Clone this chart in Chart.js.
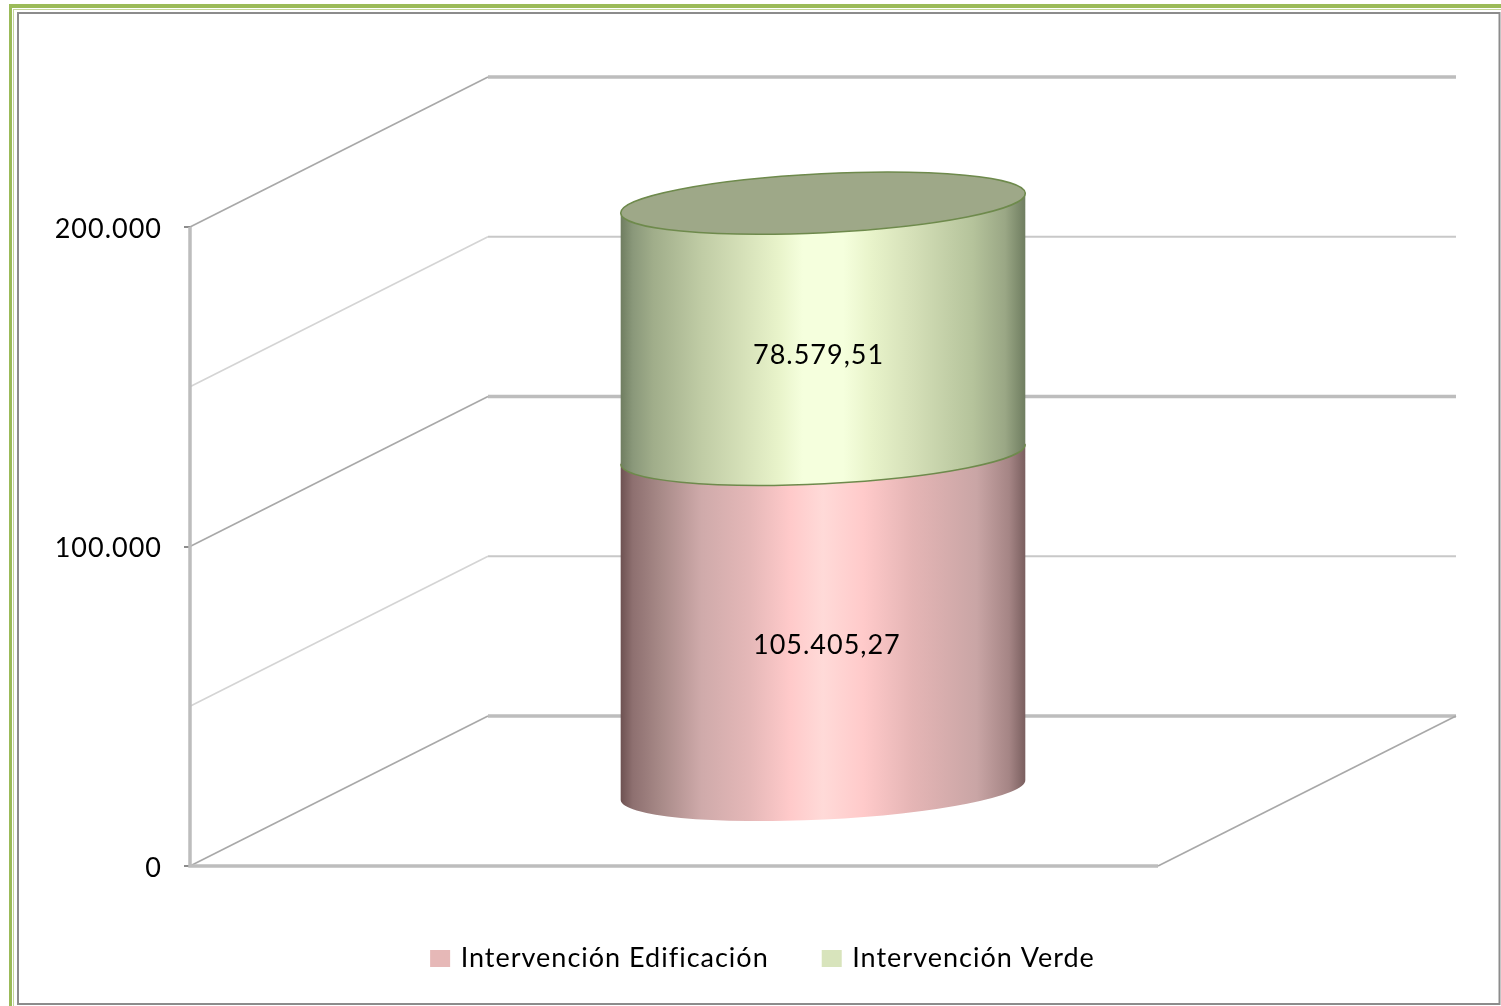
<!DOCTYPE html>
<html>
<head>
<meta charset="utf-8">
<style>
html, body { margin: 0; padding: 0; background: #fff; }
canvas { display: block; }
</style>
<script src="https://cdn.jsdelivr.net/npm/chart.js@4"></script>
</head>
<body>
<div style="width:1501px;height:1006px"><canvas id="chart" width="1501" height="1006"></canvas></div>
<script>
const categories = [''];
const seriesNames = ['Intervención Edificación', 'Intervención Verde'];
const edificacion = [105405.27];
const verde = [78579.51];
const tickValues = [0, 100000, 200000];

const font = 'Lato';
const fontSize = 27;
const depth = { x: 298, y: -150 };
const tiltDy = 10;
const ellipseB = 29.5;
const labelDrop = [23, 27];

function fmtTick(v) {
	return String(v).replace(/\B(?=(\d{3})+$)/g, '.');
}
function fmtValue(v) {
	const parts = v.toFixed(2).split('.');
	return fmtTick(parts[0]) + ',' + parts[1];
}

const greenStops = [[0, '#6f7d60'], [0.03, '#8a987a'], [0.08, '#a0ad8a'], [0.2, '#c0cca5'], [0.3, '#d5e0b8'], [0.39, '#e8f3ca'], [0.45, '#f5ffdd'], [0.55, '#f5ffdd'], [0.62, '#e8f3ca'], [0.72, '#d5e0b8'], [0.87, '#b5c39b'], [0.95, '#9aa785'], [1, '#6f7d60']];
const redStops = [[0, '#6e5252'], [0.03, '#8e7070'], [0.1, '#a88a88'], [0.2, '#cfaaaa'], [0.32, '#e5b8b8'], [0.42, '#ffcaca'], [0.5, '#ffdad8'], [0.6, '#ffcaca'], [0.72, '#e5b5b5'], [0.88, '#c9a5a5'], [0.96, '#a58585'], [1, '#7a5f5f']];

function sideGradient(ctx, x0, x1, stops) {
	const g = ctx.createLinearGradient(x0, 0, x1, 0);
	stops.forEach(s => g.addColorStop(s[0], s[1]));
	return g;
}

// back wall, floor and side lines, taken from the y scale ticks
const wallPlugin = {
	id: 'wall',
	beforeDatasetsDraw(chart) {
		const ctx = chart.ctx;
		const { left, right } = chart.chartArea;
		const y = chart.scales.y;
		ctx.save();
		y.ticks.forEach(t => {
			const py = y.getPixelForValue(t.value);
			const major = t.value % 100000 === 0;
			ctx.strokeStyle = major ? '#bdbdbd' : '#c8c8c8';
			ctx.lineWidth = major ? 3.5 : 2;
			ctx.beginPath();
			ctx.moveTo(left + depth.x, py + depth.y);
			ctx.lineTo(right + depth.x, py + depth.y);
			ctx.stroke();
			ctx.strokeStyle = major ? '#a8a8a8' : '#d4d4d4';
			ctx.lineWidth = 1.6;
			ctx.beginPath();
			ctx.moveTo(left, py);
			ctx.lineTo(left + depth.x, py + depth.y);
			ctx.stroke();
		});
		const base = y.getPixelForValue(0);
		const top = y.getPixelForValue(200000);
		ctx.strokeStyle = '#bdbdbd';
		ctx.lineWidth = 3.5;
		ctx.beginPath();
		ctx.moveTo(left, top);
		ctx.lineTo(left, base);
		ctx.lineTo(right, base);
		ctx.stroke();
		ctx.strokeStyle = '#a8a8a8';
		ctx.lineWidth = 1.6;
		ctx.beginPath();
		ctx.moveTo(right, base);
		ctx.lineTo(right + depth.x, base + depth.y);
		ctx.stroke();
		ctx.restore();
	}
};

const cylinderPlugin = {
	id: 'cylinder',
	beforeDatasetsDraw(chart) {
		const ctx = chart.ctx;
		const stops = [redStops, greenStops];
		const rot = Math.atan2(-tiltDy, 202.5);
		ctx.save();
		ctx.translate(depth.x / 2, depth.y / 2);
		[0, 1].forEach(i => {
			const bar = chart.getDatasetMeta(i).data[0];
			const hw = bar.width / 2;
			const a = Math.hypot(hw, tiltDy);
			ctx.fillStyle = sideGradient(ctx, bar.x - hw, bar.x + hw, stops[i]);
			ctx.beginPath();
			ctx.moveTo(bar.x + hw, bar.y - tiltDy);
			ctx.lineTo(bar.x + hw, bar.base - tiltDy);
			ctx.ellipse(bar.x, bar.base, a, ellipseB, rot, 0, Math.PI);
			ctx.lineTo(bar.x - hw, bar.y + tiltDy);
			ctx.ellipse(bar.x, bar.y, a, ellipseB, rot, Math.PI, Math.PI * 2);
			ctx.closePath();
			ctx.fill();
			if (i === 1) {
				ctx.strokeStyle = '#6e8a4c';
				ctx.lineWidth = 1.5;
				ctx.beginPath();
				ctx.ellipse(bar.x, bar.base, a, ellipseB, rot, 0, Math.PI);
				ctx.stroke();
				ctx.fillStyle = '#9ea888';
				ctx.beginPath();
				ctx.ellipse(bar.x, bar.y, a, ellipseB, rot, 0, Math.PI * 2);
				ctx.fill();
				ctx.stroke();
			}
		});
		// value labels
		ctx.fillStyle = '#000';
		ctx.font = fontSize + 'px ' + font;
		ctx.textAlign = 'left';
		ctx.textBaseline = 'middle';
		[edificacion, verde].forEach((vals, i) => {
			const bar = chart.getDatasetMeta(i).data[0];
			ctx.fillText(fmtValue(vals[0]), bar.x - 70, (bar.y + bar.base) / 2 + labelDrop[i]);
		});
		ctx.restore();
		return false;
	}
};

const framePlugin = {
	id: 'frame',
	beforeUpdate(chart) {
		// the reference text runs a bit wider than Lato
		chart.ctx.letterSpacing = '1px';
	},
	beforeDraw(chart) {
		const ctx = chart.ctx;
		ctx.save();
		ctx.fillStyle = '#9bbb59';
		ctx.fillRect(9, 4, 1492, 4);
		ctx.fillRect(9, 4, 3, 1002);
		ctx.fillStyle = '#c3d69b';
		ctx.fillRect(13, 9, 1488, 1);
		ctx.fillRect(13, 9, 1, 997);
		ctx.strokeStyle = '#8c8c8c';
		ctx.lineWidth = 2;
		ctx.strokeRect(18, 13, 1481.5, 991);
		ctx.restore();
	}
};

new Chart(document.getElementById('chart'), {
	type: 'bar',
	data: {
		labels: categories,
		datasets: [
			{ label: seriesNames[0], data: edificacion, backgroundColor: '#e6b8b7', borderColor: '#e6b8b7', borderWidth: 6, stack: 's' },
			{ label: seriesNames[1], data: verde, backgroundColor: '#d8e4bc', borderColor: '#d8e4bc', borderWidth: 6, stack: 's' }
		]
	},
	plugins: [framePlugin, wallPlugin, cylinderPlugin, {
		id: 'legendMove',
		afterLayout(chart) {
			chart.legend.left = 0;
			chart.legend.right = 1528;
			chart.legend.adjustHitBoxes();
		}
	}],
	options: {
		responsive: false,
		animation: false,
		layout: { padding: { left: 28, right: 343, top: 227, bottom: 24 } },
		datasets: { bar: { categoryPercentage: 1, barPercentage: 0.418 } },
		scales: {
			x: {
				stacked: true,
				grid: { display: false },
				border: { display: false },
				ticks: { display: false },
				afterFit(s) { s.height = 23; }
			},
			y: {
				stacked: true,
				min: 0,
				max: 200000,
				afterBuildTicks(s) {
					s.ticks = [0, 50000, 100000, 150000, 200000].map(v => ({ value: v }));
				},
				grid: {
					drawOnChartArea: false,
					tickLength: 6,
					tickColor: c => (c.tick && tickValues.includes(c.tick.value)) ? '#8c8c8c' : 'rgba(0,0,0,0)',
					lineWidth: 2
				},
				border: { display: false },
				ticks: {
					padding: 22,
					labelOffset: 2,
					color: '#000',
					font: { family: font, size: fontSize },
					callback: v => tickValues.includes(v) ? fmtTick(v) : ''
				},
				afterFit(s) { s.width = 162; }
			}
		},
		plugins: {
			tooltip: { enabled: false },
			legend: {
				position: 'bottom',
				labels: {
					color: '#000',
					font: { family: font, size: fontSize },
					boxWidth: 14,
					boxHeight: 11,
					padding: 56
				}
			}
		}
	}
});
</script>
</body>
</html>
